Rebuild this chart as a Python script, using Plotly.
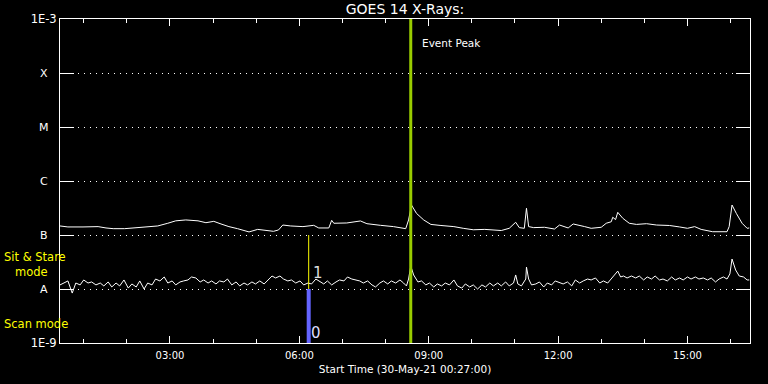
import numpy as np
import plotly.graph_objects as go
from datetime import datetime, timedelta

# ---------------- data ----------------
start_time = datetime(2021, 5, 30, 0, 27, 0)
span_hours = 16

# GOES long channel (1-8 A): minutes after start, flux in 1e-7 W/m^2
long_min = [0, 11, 32, 43, 53, 64, 74, 90, 106, 122, 136, 150, 161, 175, 192, 203, 214, 224,
            235, 247, 263, 275, 286, 297, 304, 310, 321, 338, 353, 360, 374, 378, 381, 399,
            418, 427, 446, 464, 481, 485, 489, 496, 506, 516, 530, 548, 561, 575, 591, 614,
            625, 634, 639, 646, 649, 652, 659, 674, 688, 695, 707, 714, 730, 739, 753, 760,
            767, 769, 773, 776, 783, 792, 802, 816, 830, 848, 862, 873, 883, 892, 908, 928,
            931, 935, 941, 949, 956, 959]
long_flux_e7 = [1.47, 1.41, 1.41, 1.43, 1.43, 1.35, 1.31, 1.31, 1.35, 1.43, 1.47, 1.65, 1.83,
                1.90, 1.83, 1.69, 1.79, 1.60, 1.43, 1.31, 1.14, 1.27, 1.21, 1.17, 1.24, 1.53,
                1.47, 1.43, 1.51, 1.35, 1.35, 1.87, 1.65, 1.67, 1.82, 1.62, 1.51, 1.43, 1.31,
                1.90, 3.59, 2.51, 1.90, 1.57, 1.50, 1.43, 1.33, 1.25, 1.27, 1.21, 1.33, 1.72,
                1.37, 1.33, 3.13, 1.43, 1.37, 1.39, 1.29, 1.53, 1.35, 1.60, 1.43, 1.33, 1.39,
                1.65, 1.76, 2.13, 1.93, 2.63, 2.04, 1.65, 1.57, 1.62, 1.53, 1.50, 1.41, 1.33,
                1.43, 1.27, 1.15, 1.15, 1.43, 3.59, 2.51, 1.65, 1.33, 1.35]

# GOES short channel (0.5-4 A): minutes after start, flux in 1e-8 W/m^2
short_min = [0, 6, 11, 17, 22, 28, 33, 39, 44, 50, 56, 61, 67, 72, 78, 83, 89, 95, 100, 106,
             111, 117, 122, 128, 133, 139, 145, 150, 156, 161, 167, 172, 178, 183, 189, 195,
             200, 206, 211, 217, 222, 228, 233, 239, 245, 250, 256, 261, 267, 272, 278, 284,
             289, 295, 300, 306, 311, 317, 322, 328, 334, 339, 345, 350, 356, 361, 367, 372,
             378, 384, 389, 395, 400, 406, 411, 417, 422, 428, 434, 439, 445, 450, 456, 461,
             467, 473, 478, 482, 485, 488, 492, 498, 503, 509, 514, 520, 525, 531, 536, 542,
             548, 553, 559, 564, 570, 575, 581, 587, 592, 598, 603, 609, 614, 620, 625, 631,
             634, 637, 642, 648, 649, 652, 656, 662, 667, 673, 678, 684, 689, 695, 700, 706,
             712, 717, 723, 728, 734, 739, 745, 751, 756, 762, 767, 771, 776, 780, 784, 789,
             795, 801, 806, 812, 817, 823, 828, 834, 839, 845, 851, 856, 862, 867, 873, 878,
             884, 889, 895, 901, 906, 912, 917, 923, 928, 932, 935, 940, 945, 951, 956, 959]
short_flux_e8 = [1.19, 1.29, 1.41, 0.84, 1.29, 1.19, 1.47, 1.29, 1.35, 1.19, 1.29, 1.14, 1.35,
                 1.09, 1.29, 1.14, 1.47, 1.04, 1.24, 1.09, 1.41, 1.00, 1.29, 1.19, 1.53, 1.41,
                 1.67, 1.29, 1.41, 1.19, 1.35, 1.41, 1.47, 1.67, 1.60, 1.35, 1.47, 1.29, 1.41,
                 1.24, 1.41, 1.35, 1.53, 1.19, 1.35, 1.14, 1.29, 1.19, 1.35, 1.24, 1.41, 1.24,
                 1.47, 1.74, 1.60, 1.74, 1.53, 1.41, 1.47, 1.29, 1.41, 1.19, 1.29, 1.24, 1.53,
                 1.41, 1.24, 1.41, 1.19, 1.35, 1.47, 1.41, 1.67, 1.53, 1.47, 1.41, 1.29, 1.41,
                 1.19, 1.09, 1.29, 1.41, 1.24, 1.41, 1.29, 1.47, 1.29, 1.14, 1.53, 2.67, 1.82,
                 1.35, 1.41, 1.19, 1.29, 1.09, 1.24, 1.14, 1.29, 1.19, 1.47, 1.14, 1.04, 1.24,
                 1.09, 1.19, 1.00, 1.19, 1.09, 1.29, 1.14, 1.29, 1.14, 1.35, 1.14, 1.29, 1.82,
                 1.24, 1.14, 1.53, 2.55, 1.53, 1.19, 1.24, 1.35, 1.09, 1.29, 1.19, 1.41, 1.29,
                 1.24, 1.35, 1.14, 1.47, 1.29, 1.41, 1.53, 1.47, 1.60, 1.29, 1.41, 1.29, 1.53,
                 1.82, 2.15, 1.67, 1.74, 1.60, 1.74, 1.60, 1.74, 1.47, 1.67, 1.53, 1.74, 1.47,
                 1.53, 1.41, 1.67, 1.47, 1.60, 1.47, 1.67, 1.53, 1.67, 1.53, 1.60, 1.47, 1.60,
                 1.35, 1.53, 1.67, 1.53, 1.90, 3.59, 2.25, 1.74, 1.67, 1.47, 1.47]

event_peak_time = datetime(2021, 5, 30, 8, 35)
mode_switch_time = datetime(2021, 5, 30, 6, 13)

level_vals = [1e-9, 1e-8, 1e-7, 1e-6, 1e-5, 1e-4, 1e-3]
level_edge_labels = ["1E-9", "", "", "", "", "", "1E-3"]
class_levels = [1e-8, 1e-7, 1e-6, 1e-5, 1e-4]
class_labels = ["A", "B", "C", "M", "X"]

# ---------------- figure ----------------
FONT = "DejaVu Sans"
t_long = [start_time + timedelta(minutes=m) for m in long_min]
f_long = [v * 1e-7 for v in long_flux_e7]
t_short = [start_time + timedelta(minutes=m) for m in short_min]
f_short = [v * 1e-8 for v in short_flux_e8]

fig = go.Figure()
fig.add_trace(go.Scatter(x=t_long, y=f_long, mode="lines", line=dict(color="white", width=1),
                         showlegend=False, hoverinfo="skip"))
fig.add_trace(go.Scatter(x=t_short, y=f_short, mode="lines", line=dict(color="white", width=1),
                         showlegend=False, hoverinfo="skip"))
# event peak line
fig.add_trace(go.Scatter(x=[event_peak_time, event_peak_time], y=[level_vals[0], level_vals[-1]],
                         mode="lines", line=dict(color="#99cc00", width=3),
                         showlegend=False, hoverinfo="skip"))
# mode indicator: sit & stare (yellow) and scan (blue)
fig.add_trace(go.Scatter(x=[mode_switch_time, mode_switch_time], y=[1e-8, 1e-7],
                         mode="lines", line=dict(color="#ffff00", width=1),
                         showlegend=False, hoverinfo="skip"))
fig.add_trace(go.Scatter(x=[mode_switch_time, mode_switch_time], y=[1e-9, 1e-8],
                         mode="lines", line=dict(color="#6464ff", width=4),
                         showlegend=False, hoverinfo="skip"))

x_end = start_time + timedelta(hours=span_hours)

fig.update_layout(
    width=768, height=384,
    margin=dict(l=60, r=18, t=19, b=41, autoexpand=False),
    paper_bgcolor="black", plot_bgcolor="black",
    font=dict(family=FONT, color="white", size=10),
    title=dict(text="GOES 14 X-Rays:", x=0.5, xref="paper", y=1 - 9 / 384, yref="container",
               yanchor="middle", font=dict(family=FONT, size=14, color="white")),
    xaxis=dict(type="date", range=[start_time, x_end], showgrid=False, zeroline=False,
               automargin=False,
               showline=True, linecolor="white", linewidth=1, mirror="ticks",
               ticks="inside", ticklen=7, tickwidth=1, tickcolor="white",
               tick0="2021-05-30 00:00:00", dtick=3 * 3600000, tickformat="%H:%M",
               ticklabelstandoff=3,
               tickfont=dict(family=FONT, size=10, color="white"),
               minor=dict(dtick=3600000, ticks="inside", ticklen=4, tickcolor="white",
                          tick0="2021-05-30 00:00:00", showgrid=False),
               title=dict(text="Start Time (30-May-21 00:27:00)", standoff=5,
                          font=dict(family=FONT, size=10.5, color="white"))),
    yaxis=dict(type="log", range=[-9, -3], showline=True, linecolor="white", linewidth=1,
               automargin=False,
               mirror="ticks", ticks="inside", ticklen=14, tickcolor="white",
               tickvals=level_vals, ticktext=level_edge_labels, zeroline=False,
               showgrid=True, gridcolor="white", gridwidth=1, griddash="1px,5px",
               tickfont=dict(family=FONT, size=11.5, color="white")),
)

annotations = []
for lv, lab in zip(class_levels, class_labels):
    annotations.append(dict(x=-0.023, xref="paper", y=np.log10(lv), yref="y", text=lab,
                            showarrow=False, xanchor="center", yanchor="middle",
                            font=dict(family=FONT, size=11, color="white")))
annotations += [
    dict(x=event_peak_time, xref="x", xshift=9, y=1 - 24 / 324, yref="paper", text="Event Peak",
         showarrow=False, xanchor="left", yanchor="middle", font=dict(family=FONT, size=10.5, color="white")),
    dict(x=-0.0841, xref="paper", y=1 - 238 / 324, yref="paper", text="Sit & Stare",
         showarrow=False, xanchor="left", yanchor="middle", font=dict(family=FONT, size=11.5, color="#ffff00")),
    dict(x=-0.0681, xref="paper", y=1 - 253 / 324, yref="paper", text="mode",
         showarrow=False, xanchor="left", yanchor="middle", font=dict(family=FONT, size=11.5, color="#ffff00")),
    dict(x=-0.0841, xref="paper", y=1 - 305 / 324, yref="paper", text="Scan mode",
         showarrow=False, xanchor="left", yanchor="middle", font=dict(family=FONT, size=11.5, color="#ffff00")),
    dict(x=mode_switch_time, xref="x", xshift=2, y=np.log10(2.0e-8), yref="y", text="1",
         showarrow=False, xanchor="left", yanchor="middle", font=dict(family=FONT, size=15, color="#dddddd")),
    dict(x=mode_switch_time, xref="x", xshift=0, y=np.log10(1.5e-9), yref="y", text="0",
         showarrow=False, xanchor="left", yanchor="middle", font=dict(family=FONT, size=15, color="#ddddff")),
]
fig.update_layout(annotations=annotations)

fig.write_html("out.html")
